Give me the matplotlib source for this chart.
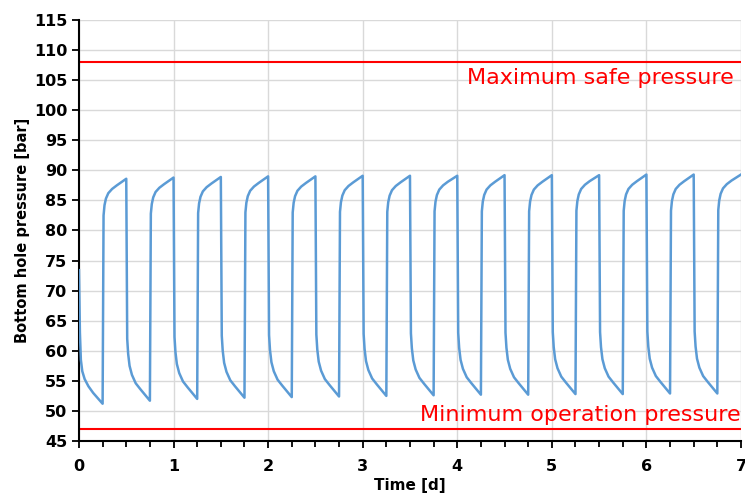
import matplotlib
matplotlib.use("Agg")
import matplotlib.pyplot as plt
import numpy as np

# pressure limits [bar]
p_max_safe = 108
p_min_oper = 47

# start of each half cycle [d] (production / injection alternate, 6 h each)
t_starts = [0.0, 0.25, 0.5, 0.75, 1.0, 1.25, 1.5, 1.75, 2.0, 2.25, 2.5, 2.75, 3.0, 3.25,
            3.5, 3.75, 4.0, 4.25, 4.5, 4.75, 5.0, 5.25, 5.5, 5.75, 6.0, 6.25, 6.5, 6.75]
# simulation output times within each half cycle [d]
t_offsets = [0.01, 0.02, 0.035, 0.06, 0.1, 0.15, 0.25]

p_start = 73.4
# bottom hole pressure in each half cycle [bar]
p_rows = [
    [63.0, 58.5, 56.6, 55.3, 54.1, 53.0, 51.2],
    [82.5, 84.2, 85.3, 86.2, 86.9, 87.5, 88.6],
    [62.0, 59.5, 57.5, 56.0, 54.6, 53.6, 51.7],
    [82.8, 84.4, 85.5, 86.4, 87.1, 87.7, 88.8],
    [62.3, 59.8, 57.8, 56.3, 54.9, 53.9, 52.0],
    [82.9, 84.5, 85.6, 86.5, 87.2, 87.8, 88.9],
    [62.5, 60.0, 58.0, 56.5, 55.1, 54.1, 52.2],
    [83.0, 84.6, 85.7, 86.6, 87.3, 87.9, 89.0],
    [62.6, 60.1, 58.1, 56.6, 55.2, 54.2, 52.3],
    [83.0, 84.6, 85.7, 86.6, 87.3, 87.9, 89.0],
    [62.7, 60.2, 58.2, 56.7, 55.3, 54.3, 52.4],
    [83.1, 84.7, 85.8, 86.7, 87.4, 88.0, 89.1],
    [62.8, 60.3, 58.3, 56.8, 55.4, 54.4, 52.5],
    [83.1, 84.7, 85.8, 86.7, 87.4, 88.0, 89.1],
    [62.9, 60.4, 58.4, 56.9, 55.5, 54.5, 52.6],
    [83.2, 84.8, 85.9, 86.8, 87.5, 88.1, 89.1],
    [63.0, 60.5, 58.5, 57.0, 55.6, 54.6, 52.7],
    [83.2, 84.8, 85.9, 86.8, 87.5, 88.1, 89.2],
    [63.0, 60.5, 58.5, 57.0, 55.6, 54.6, 52.7],
    [83.2, 84.8, 85.9, 86.8, 87.5, 88.1, 89.2],
    [63.1, 60.6, 58.6, 57.1, 55.7, 54.7, 52.8],
    [83.3, 84.9, 86.0, 86.9, 87.6, 88.2, 89.2],
    [63.1, 60.6, 58.6, 57.1, 55.7, 54.7, 52.8],
    [83.3, 84.9, 86.0, 86.9, 87.6, 88.2, 89.3],
    [63.2, 60.7, 58.7, 57.2, 55.8, 54.8, 52.9],
    [83.3, 84.9, 86.0, 86.9, 87.6, 88.2, 89.3],
    [63.2, 60.7, 58.7, 57.2, 55.8, 54.8, 52.9],
    [83.4, 85.0, 86.1, 87.0, 87.7, 88.3, 89.3],
]

t = [0.0]
p = [p_start]
for ts, row in zip(t_starts, p_rows):
    t += [ts + o for o in t_offsets]
    p += row

fig = plt.figure(figsize=(7.45, 4.99), dpi=100)
ax = fig.add_axes([0.106, 0.1162, 0.8886, 0.8438])

ax.plot(t, p, color="#5B9BD5", lw=1.8, zorder=3)
ax.axhline(p_max_safe, color="#FF0000", lw=1.5, zorder=2)
ax.axhline(p_min_oper, color="#FF0000", lw=1.5, zorder=2)

ax.text(6.92, p_max_safe - 1.0, "Maximum safe pressure", color="#FF0000",
        fontsize=16, ha="right", va="top")
ax.text(7.0, p_min_oper + 0.6, "Minimum operation pressure", color="#FF0000",
        fontsize=16, ha="right", va="bottom")

ax.set_xlim(0, 7)
ax.set_ylim(45, 115)
ax.set_xticks(np.arange(0, 8, 1))
ax.set_xticks(np.arange(0, 7.01, 0.25), minor=True)
ax.set_yticks(np.arange(45, 116, 5))
ax.grid(True, which="major", color="#D9D9D9", lw=1)
ax.set_axisbelow(True)

for s in ["top", "right"]:
    ax.spines[s].set_visible(False)
for s in ["left", "bottom"]:
    ax.spines[s].set_linewidth(1.5)
    ax.spines[s].set_color("black")

ax.tick_params(axis="both", which="major", direction="out", length=5, width=1.3,
               labelsize=11.5)
ax.tick_params(axis="x", which="major", pad=8)
ax.tick_params(axis="x", which="minor", direction="out", length=4, width=1.3)
for lab in ax.get_xticklabels() + ax.get_yticklabels():
    lab.set_fontweight("bold")

ax.set_xlabel("Time [d]", fontsize=11, fontweight="bold", labelpad=3)
ax.set_ylabel("Bottom hole pressure [bar]", fontsize=10.5, fontweight="bold", labelpad=3)

fig.savefig("out.png", dpi=100)
